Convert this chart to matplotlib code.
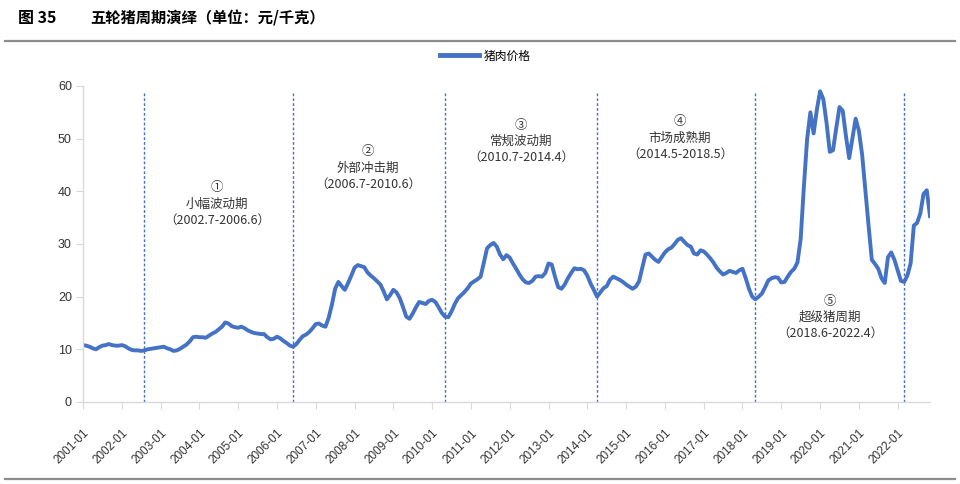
import numpy as np
import matplotlib.pyplot as plt
from matplotlib.lines import Line2D

plt.rcParams['font.family'] = ['Noto Sans CJK SC', 'DejaVu Sans']

# monthly pork price, 2001-01 .. 2022-11 (yuan/kg)
price = [
    10.8, 10.7, 10.5, 10.2, 10.0, 10.4, 10.7, 10.8, 11.0, 10.8, 10.7, 10.7,  # 2001
    10.8, 10.6, 10.2, 9.9, 9.8, 9.8, 9.7, 9.8, 10.0, 10.1, 10.2, 10.3,       # 2002
    10.4, 10.5, 10.2, 10.0, 9.7, 9.8, 10.1, 10.5, 10.9, 11.5, 12.3, 12.4,    # 2003
    12.3, 12.3, 12.2, 12.6, 13.0, 13.3, 13.8, 14.3, 15.1, 14.9, 14.4, 14.2,  # 2004
    14.1, 14.3, 14.0, 13.6, 13.3, 13.1, 13.0, 12.9, 12.9, 12.3, 11.9, 12.0,  # 2005
    12.4, 12.1, 11.6, 11.2, 10.7, 10.5, 11.0, 11.8, 12.5, 12.8, 13.3, 14.0,  # 2006
    14.8, 14.9, 14.5, 14.3, 16.0, 18.5, 21.5, 22.8, 22.0, 21.3, 22.6, 24.0,  # 2007
    25.5, 26.0, 25.8, 25.6, 24.6, 24.0, 23.5, 22.9, 22.3, 21.0, 19.5, 20.3,  # 2008
    21.3, 20.8, 19.7, 18.0, 16.2, 15.8, 16.8, 18.0, 19.0, 18.8, 18.6, 19.2,  # 2009
    19.4, 19.0, 18.0, 16.9, 16.2, 16.1, 17.2, 18.6, 19.7, 20.3, 20.9, 21.6,  # 2010
    22.5, 22.9, 23.3, 23.8, 26.5, 29.2, 29.8, 30.2, 29.5, 28.0, 27.1, 27.9,  # 2011
    27.4, 26.3, 25.3, 24.2, 23.3, 22.7, 22.6, 23.0, 23.8, 23.9, 23.8, 24.5,  # 2012
    26.3, 26.1, 23.8, 21.8, 21.5, 22.3, 23.5, 24.5, 25.4, 25.2, 25.3, 25.0,  # 2013
    24.0, 22.5, 21.3, 20.0, 20.8, 21.6, 22.0, 23.2, 23.8, 23.5, 23.2, 22.8,  # 2014
    22.3, 21.9, 21.5, 21.9, 22.9, 25.5, 28.0, 28.2, 27.6, 27.0, 26.6, 27.5,  # 2015
    28.4, 29.0, 29.3, 30.0, 30.8, 31.1, 30.4, 29.8, 29.5, 28.2, 28.0, 28.8,  # 2016
    28.6, 28.0, 27.3, 26.5, 25.5, 24.8, 24.2, 24.5, 24.9, 24.7, 24.5, 25.0,  # 2017
    25.3, 23.5, 21.5, 20.0, 19.5, 20.0, 20.6, 21.8, 23.1, 23.5, 23.7, 23.6,  # 2018
    22.7, 22.8, 23.8, 24.7, 25.3, 26.5, 31.0, 41.0, 50.0, 55.0, 51.0, 55.5,  # 2019
    59.0, 57.5, 53.0, 47.5, 47.8, 52.0, 56.0, 55.3, 50.5, 46.3, 50.0, 53.8,  # 2020
    51.5, 47.0, 40.2, 33.5, 27.0, 26.2, 25.3, 23.5, 22.6, 27.5, 28.4, 27.0,  # 2021
    25.0, 23.0, 22.8, 24.0, 26.3, 33.5, 34.0, 35.8, 39.5, 40.2, 35.3,        # 2022
]

tick_labels = [f'{y}-01' for y in range(2001, 2023)]
boundaries = ['2002-08', '2006-06', '2010-05', '2014-04', '2018-05', '2022-03']
period_marks = ['①', '②', '③', '④', '⑤']
period_names = ['小幅波动期', '外部冲击期', '常规波动期', '市场成熟期', '超级猪周期']
period_ranges = ['（2002.7-2006.6）', '（2006.7-2010.6）', '（2010.7-2014.4）',
                 '（2014.5-2018.5）', '（2018.6-2022.4）']


def month_index(s):
    y, m = s.split('-')
    return (int(y) - 2001) * 12 + int(m) - 1


W, H = 960, 484
blue = '#4472C4'

fig = plt.figure(figsize=(W / 100, H / 100), dpi=100)
ax = fig.add_axes([83 / W, 82 / H, 847 / W, 316 / H])

months = np.arange(len(price))
ax.plot(months, price, color=blue, lw=2.8, solid_joinstyle='round', label='猪肉价格')

for b in boundaries:
    ax.vlines(month_index(b), 0, 58.8, colors=blue, linestyles=(0, (2, 1.5)), lw=1.0)

ax.set_xlim(0, len(price) - 1)
ax.set_ylim(0, 60)
ax.set_yticks(range(0, 61, 10))
ax.set_xticks(np.arange(0, len(price), 12))
ax.set_xticklabels(tick_labels, rotation=45, ha='right', va='top',
                   rotation_mode='anchor', fontsize=8.5, color='#333333',
                   family=['Liberation Sans', 'DejaVu Sans'])
for lab in ax.get_yticklabels():
    lab.set_fontsize(9)
    lab.set_color('#333333')
    lab.set_family(['Liberation Sans', 'DejaVu Sans'])

for s in ['top', 'right']:
    ax.spines[s].set_visible(False)
for s in ['left', 'bottom']:
    ax.spines[s].set_color('#d9d9d9')
    ax.spines[s].set_linewidth(1.0)
ax.tick_params(axis='y', direction='out', length=5, color='#d9d9d9', pad=3)
ax.tick_params(axis='x', direction='out', length=5, color='#d9d9d9', pad=13)

# period annotations (pixel centres)
label_pos = [(217, 204), (368, 168), (521, 141), (680, 138), (830, 317)]
for (px, py), mk, nm, rg in zip(label_pos, period_marks, period_names, period_ranges):
    fig.text(px / W, 1 - py / H, f'{mk}\n{nm}\n{rg}', ha='center', va='center',
             fontsize=9, color='#333333', linespacing=1.3)

leg = ax.legend(loc='center', bbox_to_anchor=(485 / W, 1 - 56 / H),
                bbox_transform=fig.transFigure, frameon=False, fontsize=8.5,
                handlelength=3.3, handletextpad=0.4)
for ln in leg.get_lines():
    ln.set_linewidth(3.5)

# header
fig.text(18 / W, 1 - 18 / H, '图 35', fontsize=11.5, fontweight='bold', va='center')
fig.text(90 / W, 1 - 18 / H, '五轮猪周期演绎（单位：元/千克）', fontsize=11,
         fontweight='bold', va='center')
fig.add_artist(Line2D([5 / W, 955 / W], [1 - 41 / H] * 2, color='#8c8c8c', lw=1.6))
fig.add_artist(Line2D([5 / W, 955 / W], [1 - 479 / H] * 2, color='#8c8c8c', lw=1.6))

fig.savefig('out.png', dpi=100)
